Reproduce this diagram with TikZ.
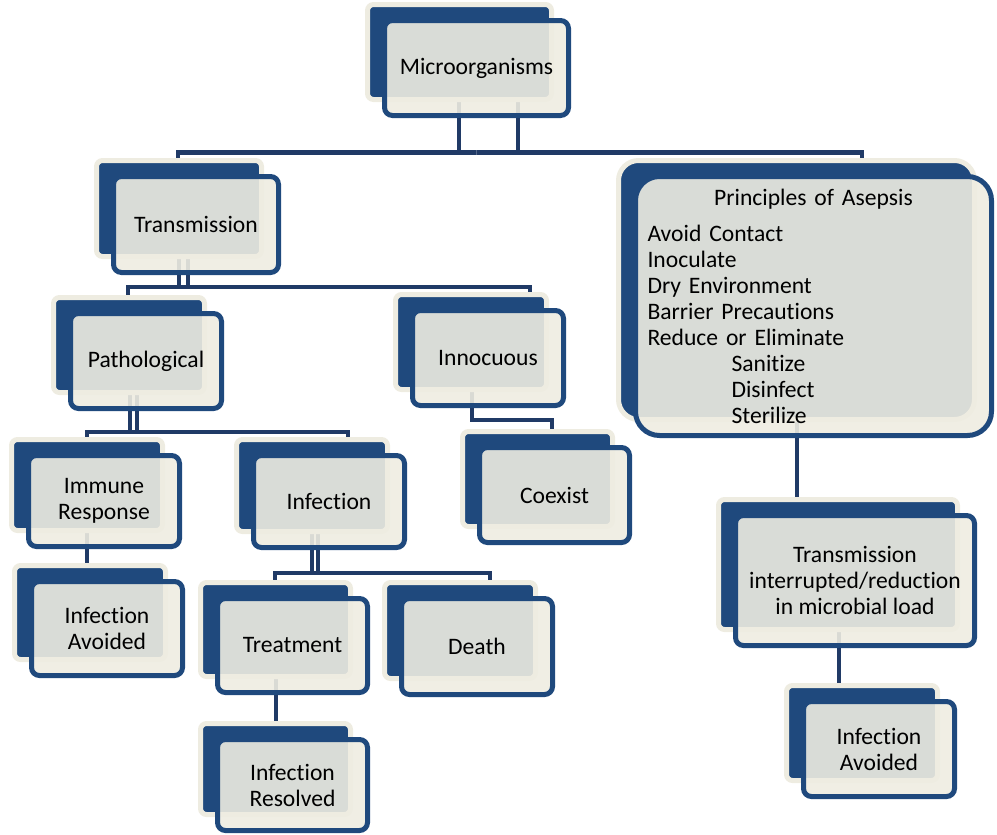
\documentclass[tikz,border=0pt]{standalone}
\usepackage{fontspec}
\setmainfont{Carlito}[Ligatures={NoCommon}]
\usetikzlibrary{calc}

\definecolor{boxblue}{RGB}{31,73,125}
\definecolor{boxcream}{RGB}{238,236,225}
\definecolor{linkblue}{RGB}{32,58,102}

\pgfdeclarelayer{links}
\pgfdeclarelayer{shadowbox}
\pgfsetlayers{links,shadowbox,main}

\begin{document}
\begin{tikzpicture}[
  x=0.5pt, y=-0.5pt,
  every node/.style={font=\fontsize{11.8}{13}\selectfont, text=black},
  card/.style={
    draw=boxblue, line width=2.5pt, fill=boxcream, fill opacity=0.9,
    text opacity=1, rounded corners=4pt, align=center, outer sep=0pt,
    inner sep=2pt, minimum width=75.5pt, minimum height=47.5pt,
  },
  cardsize/.style 2 args={minimum width=#1*0.5pt, minimum height=#2*0.5pt},
  backcard/.style={draw=boxcream, line width=2.5pt, fill=boxblue},
  link/.style={draw=linkblue, line width=2.4pt},
]
\useasboundingbox (0,0) rectangle (997,835);

% front cards
\node[card, cardsize={184}{95}] (micro) at (476.5,68) {Microorganisms};
\node[card, cardsize={165}{96}] (trans) at (196,224.5) {Transmission};
\node[card, cardsize={356}{259}, rounded corners=12pt, align=left,
      text width=166pt, inner xsep=6pt] (asepsis) at (813.5,306)
  {\makebox[166pt][c]{Principles of Asepsis}\\[5pt]
   Avoid Contact\\
   Inoculate\\
   Dry Environment\\
   Barrier Precautions\\
   Reduce or Eliminate\\
   \hspace*{42pt}Sanitize\\
   \hspace*{42pt}Disinfect\\
   \hspace*{42pt}Sterilize};
\node[card] (patho) at (146,361) {Pathological};
\node[card] (innoc) at (488,358) {Innocuous};
\node[card, cardsize={151}{91}] (immune) at (104,501) {Immune\\Response};
\node[card, cardsize={151}{92}] (infect) at (329,501.5) {Infection};
\node[card, cardsize={150}{95}] (coexist) at (554.5,495) {Coexist};
\node[card, cardsize={151}{94}] (avoidL) at (107,628.5) {Infection\\Avoided};
\node[card, cardsize={150}{94}] (treat) at (292.5,645.5) {Treatment};
\node[card, cardsize={151}{96}] (death) at (477,646.5) {Death};
\node[card, cardsize={150}{91}] (resolved) at (292.5,785) {Infection\\Resolved};
\node[card, cardsize={239}{130}] (interrupt) at (855,580.5)
  {Transmission\\interrupted/reduction\\in microbial load};
\node[card] (avoidR) at (879,749) {Infection\\Avoided};

% dark cards behind
\begin{pgfonlayer}{shadowbox}
  \foreach \n/\r in {micro/3pt, trans/3pt, asepsis/10pt, patho/3pt, innoc/3pt,
                     immune/3pt, infect/3pt, coexist/3pt, avoidL/3pt, treat/3pt,
                     death/3pt, resolved/3pt, interrupt/3pt, avoidR/3pt}
    \draw[backcard, rounded corners=\r] ($(\n.north west)+(-17,-16)$)
      rectangle ($(\n.south east)+(-17,-16)$);
\end{pgfonlayer}

% connectors (start inside the card, shows faintly through it)
\begin{pgfonlayer}{links}
  \draw[link] ($(micro.center)+(-17.5,0)$) |- ($(micro.south)+(0,37)$) -| ($(trans.north)+(-18,0)$);
  \draw[link] ($(micro.center)+(41.5,0)$) |- ($(micro.south)+(0,37)$) -| ($(asepsis.north)+(48.5,0)$);
  \draw[link] ($(trans.center)+(-17,0)$) |- ($(trans.south)+(0,14.5)$) -| ($(patho.north)+(-18,0)$);
  \draw[link] ($(trans.center)+(-8,0)$) |- ($(trans.south)+(0,14.5)$) -| ($(innoc.north)+(42,0)$);
  \draw[link] ($(patho.center)+(-16,0)$) |- ($(patho.south)+(0,23.5)$) -| ($(immune.north)+(-17,0)$);
  \draw[link] ($(patho.center)+(-9,0)$) |- ($(patho.south)+(0,23.5)$) -| ($(infect.north)+(19,0)$);
  \draw[link] ($(innoc.center)+(-16,0)$) |- ($(innoc.south)+(0,14.5)$) -| ($(coexist.north)+(-2.5,0)$);
  \draw[link] ($(infect.center)+(-17,0)$) |- ($(infect.south)+(0,25.5)$) -| ($(treat.north)+(-17.5,0)$);
  \draw[link] ($(infect.center)+(-11,0)$) |- ($(infect.south)+(0,25.5)$) -| ($(death.north)+(13,0)$);
  \draw[link] ($(immune.center)+(-17,0)$) -- ($(avoidL.north)+(-20,0)$);
  \draw[link] ($(treat.center)+(-16.5,0)$) -- ($(resolved.north)+(-16.5,0)$);
  \draw[link] ($(asepsis.center)+(-16.5,0)$) -- ($(interrupt.north)+(-58,0)$);
  \draw[link] ($(interrupt.center)+(-16,0)$) -- ($(avoidR.north)+(-40,0)$);
\end{pgfonlayer}
\end{tikzpicture}
\end{document}
